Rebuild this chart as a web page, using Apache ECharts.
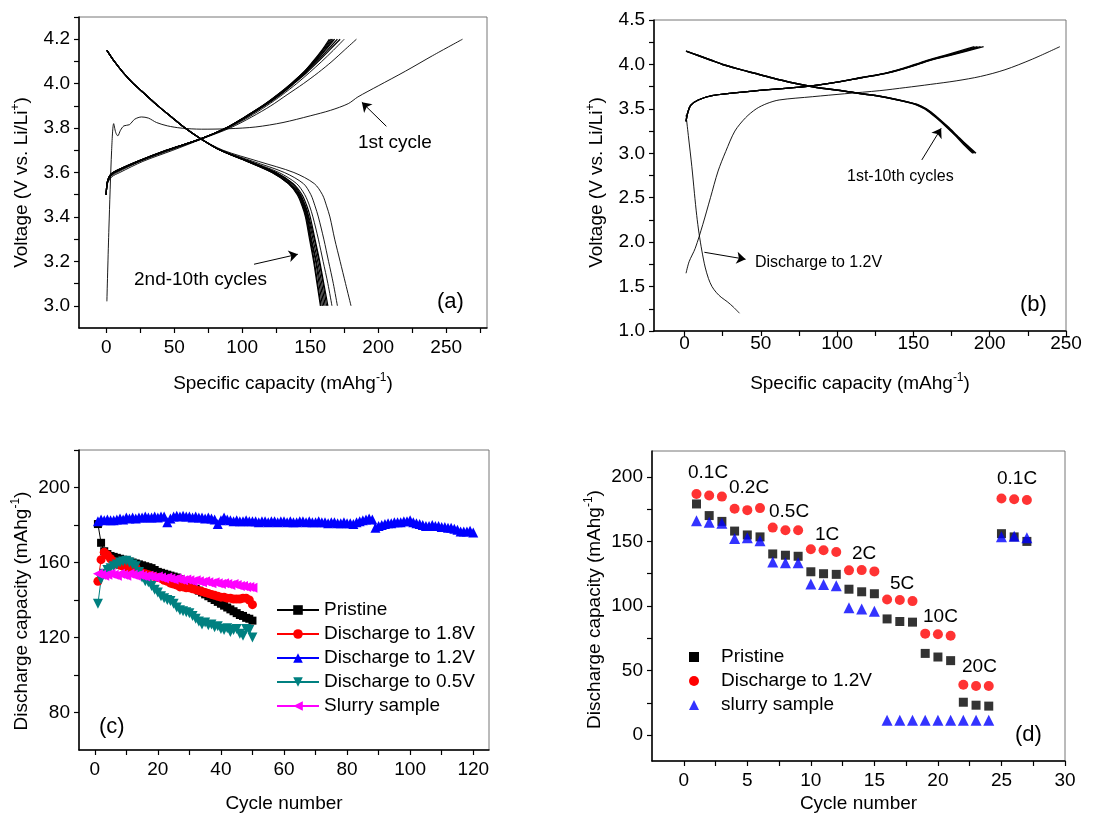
<!DOCTYPE html>
<html>
<head>
<meta charset="utf-8">
<script src="https://cdn.jsdelivr.net/npm/echarts@6/dist/echarts.min.js"></script>
<style>
html, body { margin: 0; padding: 0; background: #fff; }
#chart { width: 1094px; height: 817px; }
</style>
</head>
<body>
<div id="chart"></div>
<script>
// ---- (a) charge / discharge curves, capacity read at fixed voltages ----
const aChargeV = [3.50, 3.55, 3.58, 3.60, 3.65, 3.70, 3.75, 3.80, 3.85, 3.90, 3.95, 4.00, 4.05, 4.10, 4.15, 4.20];
const aChargeCap = [
    [0, 1.0, 4.0, 10, 27, 49, 70, 91, 107, 121, 133, 145, 156, 166, 175, 184],
    [0, 0.8, 3.0, 8.0, 25, 47, 69.5, 89.5, 105, 118, 129.5, 140, 149.5, 158.5, 167, 175],
    [0, 0.7, 2.5, 6.5, 24, 45.5, 69, 89, 103.5, 116.5, 128, 138, 147.5, 156, 164, 172],
    [0, 0.7, 2.5, 6.0, 24, 45, 69, 88.5, 103, 116, 127.5, 137.5, 146.5, 155, 162.5, 170],
    [0, 0.6, 2.2, 5.5, 23.5, 44.5, 69, 88.5, 102.5, 115.5, 127, 137, 146, 154, 161, 168],
    [0, 0.6, 2.2, 5.5, 23.5, 44.5, 69, 88, 102.5, 115.5, 126.5, 136.5, 145.5, 153.5, 160.5, 167],
    [0, 0.6, 2.0, 5.0, 23, 44, 69, 88, 102, 115, 126.5, 136.5, 145.5, 153, 159.5, 166],
    [0, 0.6, 2.0, 5.0, 23, 44, 69, 88, 102, 115, 126, 136, 145, 152.5, 159, 165],
    [0, 0.6, 2.0, 5.0, 23, 44, 69, 88, 102, 115, 126, 136, 145, 152, 158.5, 164]
];
const aCharge1st = [
    [0.5, 3.02], [2, 3.35], [4, 3.70], [5.5, 3.82], [7, 3.78], [8.5, 3.765], [10.5, 3.79], [13, 3.81],
    [17, 3.815], [21, 3.84], [26, 3.85], [31, 3.845], [37, 3.825], [45, 3.81], [55, 3.80], [70, 3.795],
    [90, 3.797], [110, 3.805], [130, 3.825], [150, 3.855], [165, 3.88], [178, 3.91], [185, 3.94],
    [200, 3.99], [220, 4.056], [240, 4.126], [262, 4.2]
];
const aDisV = [4.15, 4.10, 4.05, 4.00, 3.95, 3.90, 3.85, 3.80, 3.75, 3.70, 3.65, 3.60, 3.55, 3.50, 3.45, 3.40, 3.30, 3.20, 3.10, 3.00];
const aDisCap = [
    [0.5, 6, 12.5, 20, 29, 38, 48, 58, 70, 86, 112, 138, 153, 159, 162, 164.5, 168, 172, 176, 180],
    [0.5, 6, 12.5, 20, 29, 38, 48, 58, 70, 85, 108, 131, 145, 150.5, 153.5, 156, 160, 163.5, 167, 170],
    [0.5, 6, 12.5, 20, 29, 38, 48, 58, 70, 84.5, 106, 127, 140, 146, 149.5, 152, 156, 159.5, 163, 166],
    [0.5, 6, 12.5, 20, 29, 38, 48, 58, 70, 84, 105, 125, 137.5, 144, 147.5, 150, 153.5, 157, 160, 163],
    [0.5, 6, 12.5, 20, 29, 38, 48, 58, 70, 84, 105, 124.5, 137, 143, 146.5, 149, 153, 156.5, 159.5, 162],
    [0.5, 6, 12.5, 20, 29, 38, 48, 58, 70, 84, 104.5, 124, 136, 142.5, 146, 148.5, 152, 155.5, 158.5, 161],
    [0.5, 6, 12.5, 20, 29, 38, 48, 58, 70, 84, 104, 123, 135, 142, 145.5, 148, 151, 154.5, 157.5, 160],
    [0.5, 6, 12.5, 20, 29, 38, 48, 58, 70, 84, 104, 122.5, 134.5, 141.5, 145, 147.5, 150.5, 154, 156.5, 159],
    [0.5, 6, 12.5, 20, 29, 38, 48, 58, 70, 84, 104, 122, 134, 141, 144.5, 147, 150, 153, 155.5, 158],
    [0.5, 6, 12.5, 20, 29, 38, 48, 58, 70, 84, 103.5, 122, 134, 140.5, 144, 146.5, 149.5, 152.5, 155, 157.5]
];

// ---- (b) ----
const bChargeV = [3.36, 3.45, 3.54, 3.60, 3.65, 3.70, 3.75, 3.80, 3.85, 3.90, 3.95, 4.00, 4.05, 4.10, 4.15, 4.20];
const bChargeCap = [
    [1, 2, 4, 9, 18, 45, 79, 100, 115, 131, 142, 151, 160, 170, 180, 190],
    [1, 2, 4, 9, 18, 45, 79, 100, 115.5, 131.5, 142.5, 152, 161, 171.5, 182, 192],
    [1, 2, 4, 9, 18, 45, 79, 100, 116, 132, 143, 152.5, 161.5, 172.5, 183.5, 194],
    [1, 2, 4, 9, 18, 45, 79, 100, 116, 132, 143.5, 153, 162, 173.5, 185, 196]
];
const bDisV = [4.15, 4.10, 4.05, 4.00, 3.95, 3.90, 3.85, 3.80, 3.75, 3.70, 3.65, 3.60, 3.55, 3.50, 3.45, 3.40, 3.30, 3.20, 3.10, 3.00];
const bDisCap = [
    [1, 9, 17, 25, 35, 46, 57, 69, 84, 104, 125, 140, 151.5, 157.5, 161.5, 165, 171.5, 177.5, 183, 189],
    [1, 9, 17, 25, 35, 46, 57, 69, 84, 104, 125, 140, 152, 158, 162, 165.5, 172, 178, 184, 190],
    [1, 9, 17, 25, 35, 46, 57, 69, 84, 104, 125, 140.5, 152.5, 158.5, 162.5, 166, 172.5, 178.5, 184.5, 191]
];
const bChargeAfter12 = [
    [1, 1.65], [3, 1.78], [7, 1.93], [12, 2.2], [17, 2.5], [22, 2.8], [27, 3.02], [33, 3.25], [40, 3.40],
    [47, 3.50], [54, 3.56], [62, 3.60], [84, 3.637], [105, 3.67], [128, 3.705], [145, 3.74], [161, 3.775],
    [178, 3.815], [194, 3.865], [210, 3.94], [228, 4.06], [246, 4.2]
];
const bDischarge12 = [
    [1, 3.43], [2.5, 3.2], [4.8, 2.85], [6.5, 2.55], [8, 2.3], [9.5, 2.1], [11.4, 1.9], [13.5, 1.72],
    [15.7, 1.59], [18, 1.5], [21, 1.43], [24, 1.38], [28, 1.33], [32, 1.27], [36, 1.2]
];

// ---- (c) cycling, cycle number = index + 1 ----
const cPristine = [180.5, 170.5, 166, 164.5, 163.5, 163, 162.5, 162, 161.5, 161,
    160.5, 160, 159.5, 159, 158.5, 158, 157.5, 157, 156, 155,
    154.5, 154, 153.5, 153, 152.5, 152, 151, 150, 149, 148,
    147, 146, 145, 144, 143, 142, 141, 140, 139, 138,
    137, 136, 135, 134, 133, 132, 131.5, 130.5, 130, 129];
const cDis18 = [150, 161.5, 165.5, 164, 162, 160.5, 159, 158.5, 158, 157.5,
    157, 157, 157.5, 155.5, 154.5, 154, 153.5, 153, 152.5, 152,
    151.5, 150.5, 150, 149, 148.5, 148, 147, 147, 146.5, 146.5,
    146, 145.5, 145, 144.5, 144, 143.5, 143, 142.5, 142, 141.5,
    141.5, 141, 141, 140.5, 140.5, 140.5, 141, 141, 140, 137.5];
const cDis12 = [182, 183, 182.5, 183, 182.5, 182.5, 183, 183.5, 183, 184,
    183.5, 184, 183.5, 184, 184, 184.5, 184, 184, 184.5, 184,
    184.5, 184.5, 181.5, 183.5, 184.5, 185, 184.5, 185, 184.5, 184.5,
    184, 184.5, 184, 184, 183.5, 184, 183.5, 183, 180.5, 182.5,
    184, 183, 182.5, 182, 182.5, 182, 182, 182.5, 182, 182,
    182, 181.5, 182, 182, 181.5, 182, 182, 181.5, 182, 182,
    181.5, 182, 181.5, 181.5, 182, 182, 181.5, 182, 181.5, 181.5,
    182, 181.5, 181.5, 181, 181.5, 181.5, 181, 181, 181.5, 181,
    181, 180.5, 181.5, 182, 182.5, 183, 183.5, 183, 178.5, 179.5,
    180, 180.5, 181, 181, 181.5, 181.5, 181.5, 182, 182, 182.5,
    181.5, 181, 180.5, 180, 179.5, 179.5, 180, 179.5, 179.5, 179,
    179, 178.5, 178.5, 178, 177.5, 176.5, 176.5, 176.5, 177, 176];
const cDis05 = [138, 151, 154, 156, 157, 158, 159, 160, 160.5, 161,
    160, 159, 158, 155, 152, 150, 149.5, 147.5, 145.5, 144,
    142, 141, 140, 139.5, 138, 136, 134.5, 134, 133.5, 133,
    131.5, 130, 128.5, 127, 128, 126.5, 127, 125.5, 126, 124.5,
    124, 125, 123, 124, 124.5, 122, 121, 124.5, 124, 120];
const cSlurry = [154, 153.5, 153, 153.5, 154, 153.5, 153, 154, 153.5, 153,
    154, 153.5, 153, 153.5, 153, 152.5, 153, 152.5, 152, 152.5,
    152, 151.5, 152, 151.5, 151, 151.5, 151, 150.5, 151, 150.5,
    150, 150.5, 150, 149.5, 150, 149.5, 149, 149.5, 149, 148.5,
    149, 148.5, 148, 148.5, 148, 147.5, 147.5, 147, 147, 146.5];

// ---- (d) rate capability, cycle number = index + 1 ----
const dPristine = [179, 170, 165.5, 158, 155, 153.5, 140.3, 139.3, 138.5, 126.5, 125, 124.5, 113, 111, 109.5,
    90, 88, 87.5, 63.3, 60.5, 57.7, 25.5, 23.2, 22.5, 156, 153.5, 150];
const dDis12 = [186.7, 185.5, 184.7, 175.3, 174.2, 175.8, 160.7, 158.7, 158.7, 143.9, 143.1, 141.8, 127.6, 127.8, 126.8,
    105.1, 104.6, 103.8, 78.6, 78.1, 77, 39, 38, 38, 183.2, 182.7, 182.1];
const dSlurry = [166, 164.8, 164, 152.3, 152.8, 150.5, 134, 133.4, 133.4, 117, 116.6, 115.6, 98.7, 97.7, 95.9,
    11.5, 11.5, 11.5, 11.5, 11.5, 11.5, 11.5, 11.5, 11.5, 153.6, 154, 152.8];

// ---- tick positions / labels ----
const aXTicks = [0, 25, 50, 75, 100, 125, 150, 175, 200, 225, 250, 275];
const aXLabels = [0, 50, 100, 150, 200, 250];
const aYTicks = [3.0, 3.1, 3.2, 3.3, 3.4, 3.5, 3.6, 3.7, 3.8, 3.9, 4.0, 4.1, 4.2, 4.3];
const aYLabels = [3.0, 3.2, 3.4, 3.6, 3.8, 4.0, 4.2];
const bXTicks = [0, 25, 50, 75, 100, 125, 150, 175, 200, 225, 250];
const bXLabels = [0, 50, 100, 150, 200, 250];
const bYTicks = [1.0, 1.25, 1.5, 1.75, 2.0, 2.25, 2.5, 2.75, 3.0, 3.25, 3.5, 3.75, 4.0, 4.25, 4.5];
const bYLabels = [1.0, 1.5, 2.0, 2.5, 3.0, 3.5, 4.0, 4.5];
const cXTicks = [0, 10, 20, 30, 40, 50, 60, 70, 80, 90, 100, 110, 120];
const cXLabels = [0, 20, 40, 60, 80, 100, 120];
const cYTicks = [80, 100, 120, 140, 160, 180, 200, 220];
const cYLabels = [80, 120, 160, 200];
const dXTicks = [0, 2.5, 5, 7.5, 10, 12.5, 15, 17.5, 20, 22.5, 25, 27.5, 30];
const dXLabels = [0, 5, 10, 15, 20, 25, 30];
const dYTicks = [0, 25, 50, 75, 100, 125, 150, 175, 200];
const dYLabels = [0, 50, 100, 150, 200];

const FONT = '"Liberation Sans", Arial, sans-serif';
const chart = echarts.init(document.getElementById('chart'));

function axis(grid, min, max, name, nameGap, ticks, labels, margin, fmt, namePad) {
    return {
        type: 'value', gridIndex: grid, min: min, max: max,
        name: name, nameLocation: 'middle', nameGap: nameGap,
        nameTextStyle: {
            color: '#000', fontFamily: FONT, fontSize: 19, lineHeight: 24,
            padding: [0, namePad || 0, 0, 0],
            rich: { sup: { fontSize: 12, lineHeight: 13, verticalAlign: 'top', fontFamily: FONT, color: '#000' } }
        },
        axisLine: { show: true, onZero: false, lineStyle: { color: '#000', width: 1.5 } },
        axisTick: { show: true, inside: false, length: 5, customValues: ticks, lineStyle: { color: '#000', width: 1.2 } },
        axisLabel: { customValues: labels, color: '#000', fontFamily: FONT, fontSize: 19, margin: margin, formatter: fmt },
        splitLine: { show: false }
    };
}
const fixed1 = v => v.toFixed(1);
const whole = v => String(v);

function curve(data, idx, width) {
    return {
        type: 'line', xAxisIndex: idx, yAxisIndex: idx, data: data,
        showSymbol: false, symbol: 'none', smooth: 0.3,
        lineStyle: { color: '#000', width: width }, silent: true
    };
}
const pairs = (caps, volts) => caps.map((c, i) => [c, volts[i]]);

function arrow(from, to) {
    return {
        silent: true, animation: false, symbol: ['none', 'arrow'], symbolSize: 9,
        label: { show: false }, lineStyle: { color: '#000', width: 1, type: 'solid' },
        data: [[{ coord: from }, { coord: to }]]
    };
}

function cycling(name, values, color, symbol, size, rotate) {
    return {
        name: name, type: 'line', xAxisIndex: 2, yAxisIndex: 2,
        data: values.map((v, i) => [i + 1, v]),
        symbol: symbol, symbolSize: size, symbolRotate: rotate || 0, showSymbol: true,
        itemStyle: { color: color }, lineStyle: { color: color, width: 1 }, silent: true
    };
}
function rate(name, values, color, symbol, size) {
    return {
        name: name, type: 'scatter', xAxisIndex: 3, yAxisIndex: 3,
        data: values.map((v, i) => [i + 1, v]),
        symbol: symbol, symbolSize: size, itemStyle: { color: color }, silent: true
    };
}

function txt(s, x, y, size) {
    return {
        type: 'text', x: x, y: y, silent: true,
        style: { text: s, fontFamily: FONT, fontSize: size, fill: '#000', align: 'left', verticalAlign: 'middle' }
    };
}

const series = [];
// (c) first so that its legend finds the line series
series.push(cycling('Pristine', cPristine, '#000000', 'rect', 8));
series.push(cycling('Discharge to 1.8V', cDis18, '#ff0000', 'circle', 9));
series.push(cycling('Discharge to 1.2V', cDis12, '#0000ff', 'triangle', 10));
series.push(cycling('Discharge to 0.5V', cDis05, '#008080', 'triangle', 10, 180));
series.push(cycling('Slurry sample', cSlurry, '#ff00ff', 'triangle', 10, 90));

// (a)
const a1 = curve(aCharge1st, 0, 0.9);
a1.markLine = arrow([206, 3.808], [188, 3.916]);
series.push(a1);
aChargeCap.forEach((c, i) => series.push(curve(pairs(c, aChargeV), 0, i < 2 ? 0.9 : 1.2)));
aDisCap.forEach((c, i) => {
    const s = curve(pairs(c, aDisV), 0, i < 3 ? 0.9 : 1.2);
    if (i === 0) s.markLine = arrow([108.7, 3.187], [140.9, 3.232]);
    series.push(s);
});

// (b)
bChargeCap.forEach(c => series.push(curve(pairs(c, bChargeV), 1, 1.3)));
bDisCap.forEach((c, i) => {
    const s = curve(pairs(c, bDisV), 1, 1.5);
    if (i === 0) s.markLine = arrow([155.5, 2.925], [168.2, 3.281]);
    series.push(s);
});
series.push(curve(bChargeAfter12, 1, 0.9));
const b12 = curve(bDischarge12, 1, 0.9);
b12.markLine = arrow([13, 1.886], [40, 1.807]);
series.push(b12);

// (d)
series.push(rate('Pristine', dPristine, '#000000', 'rect', 9));
series.push(rate('Discharge to 1.2V', dDis12, '#ff0000', 'circle', 10));
series.push(rate('slurry sample', dSlurry, '#0000ff', 'triangle', 11));

const gridBase = { show: true, borderColor: '#777', borderWidth: 1, backgroundColor: 'transparent' };

chart.setOption({
    animation: false,
    backgroundColor: '#fff',
    grid: [
        Object.assign({ left: 79, top: 17, width: 408, height: 311 }, gridBase),
        Object.assign({ left: 654, top: 20, width: 412, height: 311 }, gridBase),
        Object.assign({ left: 79, top: 450, width: 410, height: 309 }, gridBase),
        Object.assign({ left: 652, top: 451, width: 413, height: 313 }, gridBase)
    ],
    xAxis: [
        axis(0, -20, 280, 'Specific capacity (mAhg{sup|-1})', 44, aXTicks, aXLabels, 10, whole),
        axis(1, -20, 250, 'Specific capacity (mAhg{sup|-1})', 41, bXTicks, bXLabels, 3, whole),
        axis(2, -5, 125, 'Cycle number', 42, cXTicks, cXLabels, 10, whole),
        axis(3, -2.5, 30, 'Cycle number', 31, dXTicks, dXLabels, 10, whole)
    ],
    yAxis: [
        axis(0, 2.9, 4.3, 'Voltage (V vs. Li/Li{sup|+})', 45, aYTicks, aYLabels, 9, fixed1, 20),
        axis(1, 1.0, 4.5, 'Voltage (V vs. Li/Li{sup|+})', 45, bYTicks, bYLabels, 9, fixed1, 14),
        axis(2, 60, 220, 'Discharge capacity (mAhg{sup|-1})', 45, cYTicks, cYLabels, 9, whole, 22),
        axis(3, -20, 220, 'Discharge capacity (mAhg{sup|-1})', 45, dYTicks, dYLabels, 9, whole, 7)
    ],
    legend: [
        {
            left: 271, top: 593, orient: 'vertical', itemWidth: 42, itemHeight: 12, itemGap: 0,
            selectedMode: false,
            data: ['Pristine', 'Discharge to 1.8V', 'Discharge to 1.2V', 'Discharge to 0.5V', 'Slurry sample'],
            textStyle: { fontFamily: FONT, fontSize: 19, color: '#000', lineHeight: 24 }
        },
        {
            left: 684, top: 640, orient: 'vertical', itemWidth: 10, itemHeight: 10, itemGap: 0,
            selectedMode: false,
            data: [
                { name: 'Pristine', icon: 'rect', itemStyle: { color: '#000000' } },
                { name: 'Discharge to 1.2V', icon: 'circle', itemStyle: { color: '#ff0000' } },
                { name: 'slurry sample', icon: 'triangle', itemStyle: { color: '#0000ff' } }
            ],
            textStyle: { fontFamily: FONT, fontSize: 19, color: '#000', lineHeight: 24, padding: [0, 0, 0, 17] }
        }
    ],
    graphic: [
        txt('1st cycle', 358, 143, 19),
        txt('2nd-10th cycles', 134, 280, 19),
        txt('(a)', 437, 302, 22),
        txt('1st-10th cycles', 847, 177, 16),
        txt('Discharge to 1.2V', 755, 263, 16),
        txt('(b)', 1020, 305, 22),
        txt('(c)', 99, 727, 22),
        txt('0.1C', 688, 473, 19),
        txt('0.2C', 729, 488, 19),
        txt('0.5C', 769, 512, 19),
        txt('1C', 815, 535, 19),
        txt('2C', 852, 554, 19),
        txt('5C', 890, 584, 19),
        txt('10C', 923, 617, 19),
        txt('20C', 962, 667, 19),
        txt('0.1C', 997, 479, 19),
        txt('(d)', 1015, 735, 22)
    ],
    series: series
});
</script>
</body>
</html>
